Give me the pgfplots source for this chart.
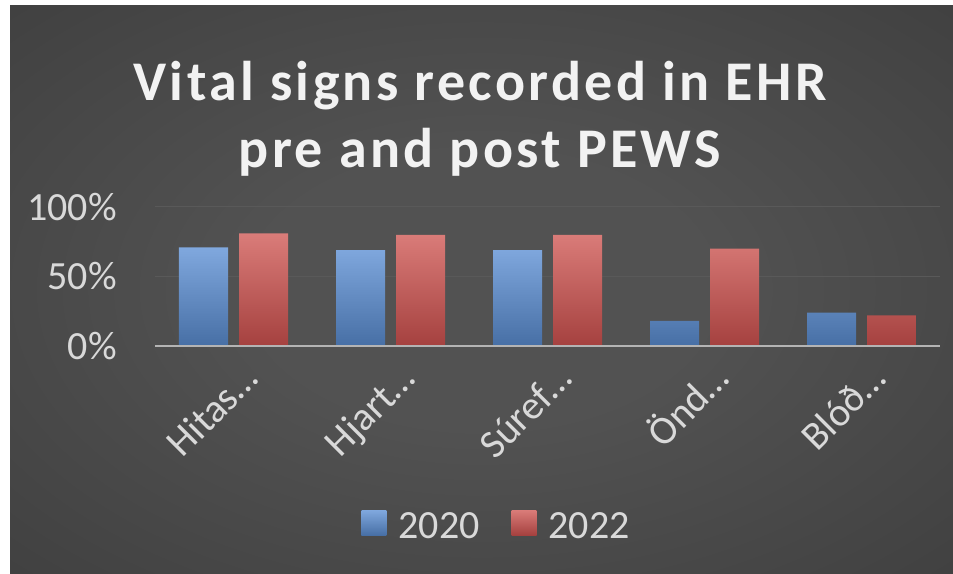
\documentclass[border=0pt]{standalone}
\usepackage{pgfplots}
\pgfplotsset{compat=1.18}
\usepackage{fontspec}
\setmainfont{Carlito}
\newfontfamily\titlefont[LetterSpace=6]{Carlito}
\definecolor{bgc}{HTML}{525252}
\definecolor{bge}{HTML}{262626}
\definecolor{bluetop}{HTML}{80A8DE}
\definecolor{bluebot}{HTML}{476FA5}
\definecolor{redtop}{HTML}{DA7C79}
\definecolor{redbot}{HTML}{A5413F}
\definecolor{ticklab}{HTML}{D9D9D9}
\definecolor{titlec}{HTML}{F2F2F2}
\definecolor{gridc}{HTML}{595959}
\definecolor{axc}{HTML}{B4B4B4}
\pgfdeclareradialshading{bgshade}{\pgfpoint{0bp}{0bp}}{color(0bp)=(bgc); color(12bp)=(bgc); color(72bp)=(bge)}
\pgfplotsset{mylegend/.style={legend image code/.code={\fill[##1] (0pt,-9pt) rectangle (25pt,16pt);}}}
\begin{document}
\begin{tikzpicture}[x=1pt,y=1pt]
\fill[white] (0,0) rectangle (953,573);
\shade[shading=bgshade] (10,0) rectangle (953,567);
\node[font=\titlefont\bfseries\fontsize{56}{67}\selectfont, text=titlec, anchor=base, inner sep=0pt] at (480,472) {Vital signs recorded in EHR};
\node[font=\titlefont\bfseries\fontsize{56}{67}\selectfont, text=titlec, anchor=base, inner sep=0pt] at (480,405) {pre and post PEWS};
\begin{axis}[
  at={(155pt,227pt)}, anchor=south west,
  scale only axis, width=785pt, height=139pt,
  xmin=-0.5, xmax=4.5, ymin=0, ymax=1,
  enlargelimits=false, clip=false,
  ybar=11pt, bar width=49pt,
  axis line style={draw=none}, tick style={draw=none},
  xtick={0,1,2,3,4},
  xticklabels={Hitas…,Hjart…,Súref…,Önd…,Blóð…},
  ytick={0,0.5,1}, yticklabels={0\%,50\%,100\%},
  ymajorgrids, grid style={gridc, line width=1pt},
  tick label style={font=\fontsize{40}{48}\selectfont, text=ticklab},
  yticklabel style={inner sep=0pt, anchor=east, xshift=-38pt},
  xticklabel style={inner sep=0pt, anchor=base east, xshift=27pt, yshift=-31pt, rotate=45},
  legend columns=2,
  legend style={at={(0.4338,-1.288)}, anchor=center, draw=none, fill=none,
    font=\fontsize{40}{48}\selectfont, text=ticklab, inner sep=0pt,
    nodes={inner sep=0pt},
    /tikz/every odd column/.append style={column sep=12pt},
    /tikz/every even column/.append style={column sep=32pt}},
]
\addplot[draw=none, top color=bluetop, bottom color=bluebot, mylegend] coordinates {(0,0.71) (1,0.69) (2,0.69) (3,0.18) (4,0.24)};
\addplot[draw=none, top color=redtop, bottom color=redbot, mylegend] coordinates {(0,0.81) (1,0.80) (2,0.80) (3,0.70) (4,0.22)};
\legend{2020,2022}
\draw[axc, line width=2.5pt] (axis cs:-0.5,0) -- (axis cs:4.5,0);
\end{axis}
\pgfresetboundingbox
\path (0,0) rectangle (953,573);
\end{tikzpicture}
\end{document}
